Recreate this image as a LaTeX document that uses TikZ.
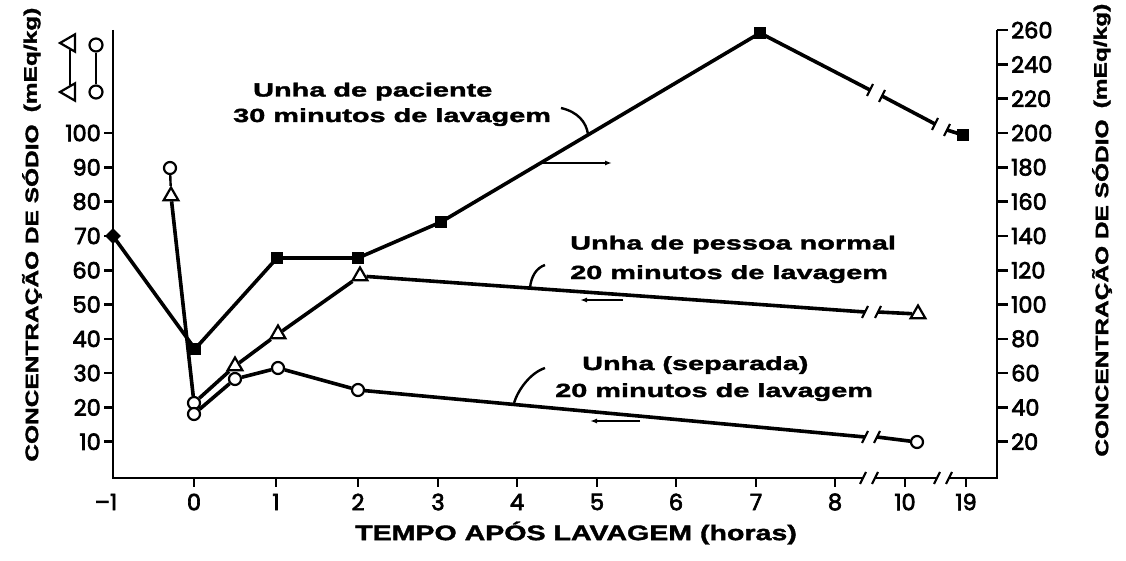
\documentclass[tikz,border=0pt]{standalone}
\usepackage{fontspec}
\setmainfont{Liberation Sans}
\newfontfamily\labf[FakeStretch=1.52,BoldFeatures={FakeBold=2}]{Liberation Sans}
\newfontfamily\axf[FakeStretch=1.36,BoldFeatures={FakeBold=1.8}]{Liberation Sans}
\newfontfamily\tickf[FakeBold=3]{Poppins}
\usetikzlibrary{shapes.geometric,arrows.meta,calc}
\begin{document}
\begin{tikzpicture}[x=1pt,y=-1pt,
  axisl/.style={line width=2.6pt},
  serie/.style={line width=3.6pt,line join=round},
  thinl/.style={line width=2.4pt},
  arr/.style={line width=2pt,-{Latex[length=7pt,width=5pt]}},
  ocirc/.style={circle,draw,fill=white,line width=2.2pt,minimum size=12pt,inner sep=0pt},
  otri/.style={regular polygon,regular polygon sides=3,draw,fill=white,line width=2.2pt,minimum size=17pt,inner sep=0pt},
  fsq/.style={rectangle,fill=black,minimum size=12pt,inner sep=0pt},
  fdia/.style={diamond,fill=black,minimum size=16pt,inner sep=0pt},
  ticklab/.style={font=\tickf\fontsize{22.5}{22.5}\selectfont,inner sep=0pt},
  lab/.style={font=\labf\bfseries\fontsize{19}{20}\selectfont,inner sep=0pt,anchor=base west},
  ylab/.style={font=\axf\bfseries\fontsize{18}{18}\selectfont,inner sep=0pt,rotate=90},
  xlab/.style={font=\axf\bfseries\fontsize{21}{21}\selectfont,inner sep=0pt},
  brkmark/.pic={\draw[line width=2.2pt] (-3,6) -- (3,-6);}
]
\fill[white] (0,0) rectangle (1126,561);
\useasboundingbox (0,0) rectangle (1126,561);

% axes
\draw[axisl] (113,30) -- (113,478) -- (862,478);
\draw[axisl] (876,478) -- (937,478);
\draw[axisl] (949,478) -- (997,478) -- (997,30);
\pic at (863,478) {brkmark};
\pic at (875,478) {brkmark};
\pic at (937,478) {brkmark};
\pic at (949,478) {brkmark};

% left ticks
\foreach \v in {10,20,...,100} {
  \draw[axisl] (104,{476-3.43*\v}) -- (113,{476-3.43*\v});
  \node[ticklab,anchor=east] at (101,{476-3.43*\v}) {\v};
}
% right ticks
\foreach \v in {20,40,...,260} {
  \draw[axisl] (997,{476-1.715*\v}) -- (1008,{476-1.715*\v});
  \node[ticklab,anchor=west] at (1011,{476-1.715*\v}) {\v};
}
% bottom ticks
\foreach \p/\t in {194/0,276/1,358/2,438/3,517/4,597/5,676/6,756/7,835/8,905/10,966/19} {
  \draw[axisl] (\p,478) -- (\p,487);
  \node[ticklab] at (\p,502) {\t};
}
\node[ticklab] at (106,502) {–1};

% axis titles
\node[ylab] (yl1) at (32,293) {CONCENTRAÇÃO DE SÓDIO};
\node[ylab] (yl2) at (32,60) {(mEq/kg)};
\node[ylab] (yr1) at (1102,288) {CONCENTRAÇÃO DE SÓDIO};
\node[ylab] (yr2) at (1102,56) {(mEq/kg)};
\node[xlab] (xt) at (576,533) {TEMPO APÓS LAVAGEM (horas)};

% legend dumbbells
\node[otri,minimum size=20pt,shape border rotate=90] (l1) at (70,43) {};
\node[otri,minimum size=20pt,shape border rotate=90] (l2) at (70,92) {};
\draw[thinl] (l1) -- (l2);
\node[ocirc,minimum size=13pt] (l3) at (96,45) {};
\node[ocirc,minimum size=13pt] (l4) at (96,92) {};
\draw[thinl] (l3) -- (l4);

% series A (filled)
\node[fdia] (a1) at (113,236) {};
\node[fsq] (a2) at (195,349) {};
\node[fsq] (a3) at (277,258) {};
\node[fsq] (a4) at (358,258) {};
\node[fsq] (a5) at (441,222) {};
\node[fsq] (a6) at (760,33) {};
\coordinate (a7) at (870,90);
\coordinate (a8) at (882,96);
\coordinate (a9) at (935,124);
\coordinate (a10) at (947,130);
\node[fsq] (a11) at (963,135) {};
\draw[serie] (a1.center) -- (a2.center) -- (a3.center) -- (a4.center) -- (a5.center) -- (a6.center) -- (a7);
\draw[serie] (a8) -- (a9);
\draw[serie] (a10) -- (a11.center);
\pic at (a7) {brkmark};
\pic at (a8) {brkmark};
\pic at (a9) {brkmark};
\pic at (a10) {brkmark};

% series B (triangles)
\node[ocirc] (b0) at (170,168) {};
\node[otri] (b1) at (171,196) {};
\node[ocirc] (b2) at (194,403) {};
\node[otri] (b3) at (235,366) {};
\node[otri] (b4) at (278,334) {};
\node[otri] (b5) at (360,276) {};
\coordinate (b6) at (865,312);
\coordinate (b7) at (878,312);
\node[otri] (b8) at (918,314) {};
\draw[thinl] (b0) -- (b1);
\draw[serie] (b1) -- (b2);
\draw[serie] (b2) -- (b3) -- (b4) -- (b5) -- (b6);
\draw[serie] (b7) -- (b8);
\pic at (b6) {brkmark};
\pic at (b7) {brkmark};

% series C (circles)
\node[ocirc] (c1) at (194,414) {};
\node[ocirc] (c2) at (235,379) {};
\node[ocirc] (c3) at (278,368) {};
\node[ocirc] (c4) at (358,390) {};
\coordinate (c5) at (865,437);
\coordinate (c6) at (877,437);
\node[ocirc] (c7) at (917,442) {};
\draw[serie] (c1) -- (c2) -- (c3) -- (c4) -- (c5);
\draw[serie] (c6) -- (c7);
\pic at (c5) {brkmark};
\pic at (c6) {brkmark};

% annotation A
\node[lab] (ta1) at (253,96.5) {Unha de paciente};
\node[lab] (ta2) at (233,122) {30 minutos de lavagem};
\coordinate (pA0) at (561,108);
\coordinate (pA1) at (588,134);
\draw[thinl] (pA0) .. controls (578,112) and (586,122) .. (pA1);
\coordinate (arA0) at (540,163);
\coordinate (arA1) at (612,163);
\draw[arr] (arA0) -- (arA1);

% annotation B
\node[lab] (tb1) at (570,249.5) {Unha de pessoa normal};
\node[lab] (tb2) at (570,279) {20 minutos de lavagem};
\coordinate (pB0) at (545,265);
\coordinate (pB1) at (530,288);
\draw[thinl] (pB0) .. controls (536,268) and (531,277) .. (pB1);
\coordinate (arB0) at (623,300);
\coordinate (arB1) at (580,300);
\draw[arr] (arB0) -- (arB1);

% annotation C
\node[lab] (tc1) at (582,370) {Unha (separada)};
\node[lab] (tc2) at (555,397) {20 minutos de lavagem};
\coordinate (pC0) at (545,368);
\coordinate (pC1) at (514,403);
\draw[thinl] (pC0) .. controls (530,373) and (518,390) .. (pC1);
\coordinate (arC0) at (640,421);
\coordinate (arC1) at (590,421);
\draw[arr] (arC0) -- (arC1);
\end{tikzpicture}
\end{document}
